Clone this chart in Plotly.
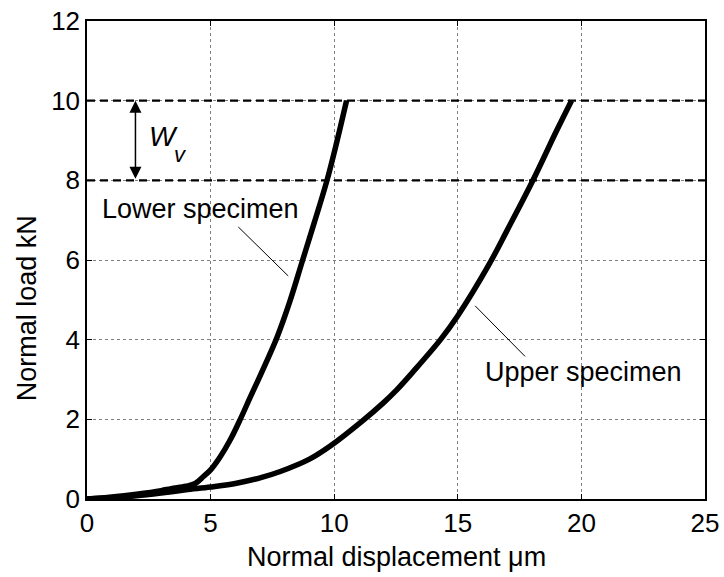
import plotly.graph_objects as go

# Lower specimen load-displacement curve (x in um, y in kN)
lower_x = [0, 1, 2, 3, 3.4, 4.0, 4.38, 4.72, 5.0, 5.39, 5.79, 6.2, 6.6, 7.08, 7.68, 8.2, 8.7, 9.2, 9.7, 10.1, 10.5]
lower_y = [0, 0.05, 0.12, 0.21, 0.26, 0.32, 0.39, 0.57, 0.73, 1.06, 1.48, 2.0, 2.55, 3.2, 4.05, 4.95, 5.95, 6.95, 7.98, 8.95, 10.0]

# Upper specimen load-displacement curve
upper_x = [0, 1, 2, 3, 4, 5, 6, 7, 7.82, 9, 9.84, 11.12, 12, 12.5, 13.2, 14.3, 15, 16.23, 17, 18, 19, 19.6]
upper_y = [0, 0.03, 0.08, 0.15, 0.23, 0.3, 0.39, 0.53, 0.69, 1.0, 1.33, 1.95, 2.42, 2.72, 3.2, 4.0, 4.6, 5.85, 6.75, 7.95, 9.25, 10.0]

# Reference load levels (dashed)
level_loads = [8, 10]

x_ticks = [0, 5, 10, 15, 20, 25]
y_ticks = [0, 2, 4, 6, 8, 10, 12]

FONT = "Liberation Sans"

fig = go.Figure()

for lv in level_loads:
    fig.add_trace(go.Scatter(x=[0, 25], y=[lv, lv], mode="lines",
                             line=dict(color="black", width=2.4, dash="8px,5px"),
                             showlegend=False, hoverinfo="skip"))

fig.add_trace(go.Scatter(x=lower_x, y=lower_y, mode="lines", line_shape="spline",
                         line=dict(color="black", width=5.5, smoothing=1.0), showlegend=False))
fig.add_trace(go.Scatter(x=upper_x, y=upper_y, mode="lines", line_shape="spline",
                         line=dict(color="black", width=5.5, smoothing=1.0), showlegend=False))

# Leader lines
fig.add_trace(go.Scatter(x=[6.12, 8.14], y=[6.83, 5.60], mode="lines",
                         line=dict(color="black", width=1), showlegend=False, hoverinfo="skip"))
fig.add_trace(go.Scatter(x=[15.70, 17.72], y=[4.85, 3.58], mode="lines",
                         line=dict(color="black", width=1), showlegend=False, hoverinfo="skip"))

# W_v double arrow
fig.add_annotation(x=1.96, y=10, ax=1.96, ay=8, xref="x", yref="y", axref="x", ayref="y",
                   text="", showarrow=True, arrowhead=2, arrowside="end+start",
                   arrowsize=1.6, arrowwidth=1.5, arrowcolor="black")
fig.add_annotation(x=3.08, y=9.10, xref="x", yref="y", showarrow=False,
                   text="<i>W</i>", font=dict(family=FONT, size=28, color="black"))
fig.add_annotation(x=3.78, y=8.64, xref="x", yref="y", showarrow=False,
                   text="<i>v</i>", font=dict(family=FONT, size=22, color="black"))

fig.add_annotation(x=4.61, y=7.28, xref="x", yref="y", showarrow=False,
                   text="Lower specimen", font=dict(family=FONT, size=27, color="black"))
fig.add_annotation(x=20.09, y=3.20, xref="x", yref="y", showarrow=False,
                   text="Upper specimen", font=dict(family=FONT, size=27, color="black"))

# Axis titles
fig.add_annotation(x=0.5, y=-0.121, xref="paper", yref="paper", showarrow=False,
                   xanchor="center", yanchor="middle",
                   text="Normal displacement μm", font=dict(family=FONT, size=27, color="black"))
fig.add_annotation(x=-0.098, y=0.40, xref="paper", yref="paper", showarrow=False, textangle=-90,
                   xanchor="center", yanchor="middle",
                   text="Normal load kN", font=dict(family=FONT, size=27, color="black"))

axis_common = dict(showline=True, linecolor="black", linewidth=1.5, mirror="ticks",
                   ticks="inside", ticklen=5, tickcolor="black",
                   showgrid=True, gridcolor="#808080", gridwidth=1, griddash="dot",
                   zeroline=False, automargin=False,
                   tickfont=dict(family=FONT, size=26, color="black"))

fig.update_xaxes(range=[0, 25], tickvals=x_ticks, ticktext=[str(t) for t in x_ticks], **axis_common)
fig.update_yaxes(range=[0, 12], tickvals=y_ticks, ticktext=[str(t) for t in y_ticks], **axis_common)

fig.update_layout(width=724, height=577, margin=dict(l=87, r=19, t=21, b=78),
                  plot_bgcolor="white", paper_bgcolor="white", showlegend=False)

fig.write_html("out.html", config={"displayModeBar": False},
               post_script="document.body.style.margin='0px';")
